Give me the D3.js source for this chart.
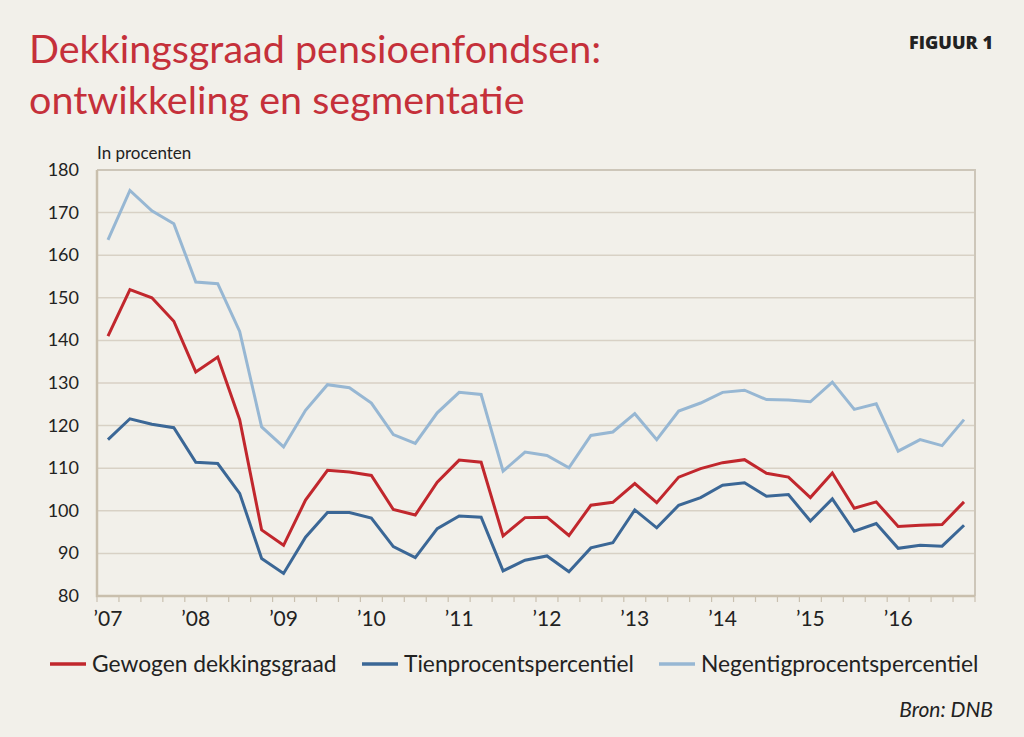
<!DOCTYPE html>
<html>
<head>
<meta charset="utf-8">
<script src="https://cdn.jsdelivr.net/npm/d3@7"></script>
<style>
  body { margin: 0; background: #f2f0ea; }
  svg { display: block; }
</style>
</head>
<body>
<script>
// quarterly data, 2007 Q1 .. 2016 Q4
const years = ["’07", "’08", "’09", "’10", "’11", "’12", "’13", "’14", "’15", "’16"];

const gewogen = [141.0, 151.9, 150.0, 144.5, 132.6, 136.1, 121.4, 95.5, 91.9, 102.5,
  109.5, 109.1, 108.3, 100.3, 99.0, 106.7, 111.9, 111.4, 94.1, 98.4,
  98.5, 94.2, 101.3, 102.0, 106.4, 101.9, 107.9, 109.9, 111.3, 112.0,
  108.8, 107.9, 103.1, 108.9, 100.6, 102.1, 96.3, 96.6, 96.8, 102.1];

const tien = [116.7, 121.6, 120.3, 119.5, 111.4, 111.1, 104.1, 88.8, 85.3, 93.8,
  99.6, 99.6, 98.3, 91.6, 89.0, 95.8, 98.8, 98.5, 85.9, 88.4,
  89.4, 85.7, 91.3, 92.5, 100.2, 96.0, 101.3, 103.1, 106.0, 106.6,
  103.4, 103.8, 97.6, 102.8, 95.2, 97.0, 91.2, 91.9, 91.7, 96.6];

const negentig = [163.6, 175.2, 170.4, 167.4, 153.7, 153.3, 142.1, 119.7, 115.0, 123.6,
  129.6, 128.9, 125.3, 117.9, 115.8, 123.0, 127.8, 127.3, 109.3, 113.8,
  113.0, 110.1, 117.7, 118.5, 122.8, 116.7, 123.4, 125.3, 127.8, 128.3,
  126.1, 126.0, 125.6, 130.2, 123.8, 125.1, 114.0, 116.7, 115.3, 121.4];

const seriesNames = ["Gewogen dekkingsgraad", "Tienprocentspercentiel", "Negentigprocentspercentiel"];
const seriesColors = ["#c1272d", "#3b6796", "#97b7d3"];
const yTicks = [80, 90, 100, 110, 120, 130, 140, 150, 160, 170, 180];

const W = 1024, H = 737;
const plotLeft = 97, plotRight = 975, plotTop = 170, plotBottom = 596;

const svg = d3.select("body").append("svg")
  .attr("width", W)
  .attr("height", H);

const x = d3.scaleLinear().domain([0, gewogen.length]).range([plotLeft, plotRight]);
const y = d3.scaleLinear().domain([80, 180]).range([plotBottom, plotTop]);

// title
const title = svg.append("text")
  .attr("fill", "#c5303a")
  .attr("font-family", "Lato, 'Noto Sans', sans-serif")
  .attr("font-size", 39.5);
title.append("tspan").attr("x", 29).attr("y", 63).text("Dekkingsgraad pensioenfondsen:");
title.append("tspan").attr("x", 29).attr("y", 114).text("ontwikkeling en segmentatie");

svg.append("text")
  .attr("x", 993).attr("y", 49)
  .attr("text-anchor", "end")
  .attr("font-family", "'Open Sans', sans-serif")
  .attr("font-weight", 800)
  .attr("font-size", 18)
  .attr("fill", "#222")
  .text("FIGUUR 1");

svg.append("text")
  .attr("x", 97).attr("y", 159)
  .attr("font-family", "Lato, sans-serif")
  .attr("font-size", 17)
  .attr("fill", "#222")
  .text("In procenten");

// gridlines
svg.append("g")
  .selectAll("line")
  .data(yTicks.filter(d => d > 80 && d < 180))
  .join("line")
    .attr("x1", plotLeft).attr("x2", plotRight)
    .attr("y1", d => y(d)).attr("y2", d => y(d))
    .attr("stroke", "#d8d1c5")
    .attr("stroke-width", 1.5);

// top and right frame
svg.append("path")
  .attr("d", `M${plotLeft},${y(180)}H${plotRight}V${plotBottom}`)
  .attr("fill", "none")
  .attr("stroke", "#cdc6b9")
  .attr("stroke-width", 2);

// y axis labels
svg.append("g")
  .selectAll("text")
  .data(yTicks)
  .join("text")
    .attr("x", 79)
    .attr("y", d => y(d) + 6)
    .attr("text-anchor", "end")
    .attr("font-family", "Lato, sans-serif")
    .attr("font-size", 18)
    .attr("fill", "#222")
    .text(d => d);

// x axis ticks at quarter boundaries
svg.append("g")
  .selectAll("line")
  .data(d3.range(gewogen.length + 1))
  .join("line")
    .attr("x1", d => x(d)).attr("x2", d => x(d))
    .attr("y1", plotBottom).attr("y2", plotBottom + 6)
    .attr("stroke", "#c9c0b0")
    .attr("stroke-width", 1.2);

// axis lines
svg.append("path")
  .attr("d", `M${plotLeft},${plotTop}V${plotBottom}H${plotRight}`)
  .attr("fill", "none")
  .attr("stroke", "#c9bfad")
  .attr("stroke-width", 2.5);

// year labels, centred on first quarter
svg.append("g")
  .selectAll("text")
  .data(years)
  .join("text")
    .attr("x", (d, i) => x(i * 4 + 0.5))
    .attr("y", 626)
    .attr("text-anchor", "middle")
    .attr("font-family", "Lato, sans-serif")
    .attr("font-size", 21)
    .attr("fill", "#222")
    .text(d => d);

// lines
const line = d3.line()
  .x((d, i) => x(i + 0.5))
  .y(d => y(d));

[negentig, tien, gewogen].forEach((s, k) => {
  svg.append("path")
    .datum(s)
    .attr("d", line)
    .attr("fill", "none")
    .attr("stroke", seriesColors[2 - k])
    .attr("stroke-width", 3)
    .attr("stroke-linejoin", "miter");
});

// legend
const legendX = [50, 362, 659];
const legend = svg.append("g")
  .selectAll("g")
  .data(seriesNames)
  .join("g")
    .attr("transform", (d, i) => `translate(${legendX[i]},664)`);
legend.append("line")
  .attr("x1", 0).attr("x2", 36)
  .attr("stroke", (d, i) => seriesColors[i])
  .attr("stroke-width", 3.5);
legend.append("text")
  .attr("x", 42).attr("y", 8)
  .attr("font-family", "Lato, sans-serif")
  .attr("font-size", 22.8)
  .attr("fill", "#222")
  .text(d => d);

svg.append("text")
  .attr("x", 993).attr("y", 717)
  .attr("text-anchor", "end")
  .attr("font-family", "Lato, sans-serif")
  .attr("font-style", "italic")
  .attr("font-size", 21)
  .attr("fill", "#222")
  .text("Bron: DNB");
</script>
</body>
</html>
